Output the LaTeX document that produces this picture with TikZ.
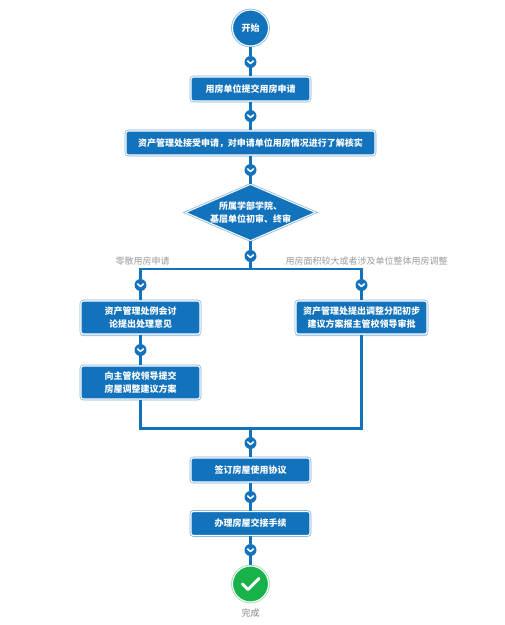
\documentclass[tikz,border=0pt]{standalone}
\usepackage{fontspec}
\setmainfont{Noto Sans CJK SC}
\usetikzlibrary{shapes.geometric}
\definecolor{flowblue}{HTML}{1272BC}
\definecolor{rimblue}{HTML}{7FB2DC}
\definecolor{flowgreen}{HTML}{17B24A}
\definecolor{rimgreen}{HTML}{8FDCA8}
\definecolor{notegray}{HTML}{9A9A9A}

\begin{document}
\begin{tikzpicture}[
        x=1pt, y=1pt,
        task/.style={rectangle, rounded corners=2.5pt, preaction={draw=rimblue, line width=2.6pt}, draw=white, line width=1.1pt, fill=flowblue, minimum height=24pt, align=center, text=white, font=\fontsize{9}{12.5}\selectfont\bfseries},
        taskshadow/.style={task, preaction={draw=rimblue!70, line width=2pt, transform canvas={yshift=-1.2pt}}},
        decision/.style={diamond, aspect=2.3, inner sep=0pt, preaction={draw=rimblue, line width=2.4pt}, draw=white, line width=1pt, fill=flowblue, minimum width=130pt, minimum height=56pt, align=center, text=white, font=\fontsize{9}{12.5}\selectfont\bfseries},
        terminal/.style={circle, inner sep=0pt, preaction={draw=rimblue, line width=2.6pt}, draw=white, line width=1.1pt, fill=flowblue, minimum size=36pt, text=white, font=\fontsize{9}{11}\selectfont\bfseries},
        finish/.style={circle, inner sep=0pt, preaction={draw=rimgreen, line width=2.6pt}, draw=white, line width=1.1pt, fill=flowgreen, minimum size=36pt,
            path picture={\draw[white, line width=3pt, line cap=round, line join=round] ([shift={(-8,0)}]path picture bounding box.center) -- ([shift={(-2.5,-5.5)}]path picture bounding box.center) -- ([shift={(8.5,5.5)}]path picture bounding box.center);}},
        chevron/.style={circle, inner sep=0pt, fill=flowblue, minimum size=12pt,
            path picture={\draw[white, line width=1.5pt, line cap=round, line join=round] ([shift={(-3,1.2)}]path picture bounding box.center) -- ([shift={(0,-1.6)}]path picture bounding box.center) -- ([shift={(3,1.2)}]path picture bounding box.center);}},
        note/.style={text=notegray, inner sep=0pt, font=\fontsize{9}{11}\selectfont},
        link/.style={draw=flowblue, line width=2.2pt}
    ]
    \useasboundingbox (0,0) rectangle (505,-625);

    % --- 1. main column ---
    \node[terminal] (start) at (250.5,-28) {开始};
    \node[task, minimum width=119pt] (apply) at (250.5,-89) {用房单位提交用房申请};
    \node[task, minimum width=249pt] (verify) at (250.5,-143) {资产管理处接受申请，对申请单位用房情况进行了解核实};
    \node[decision] (review) at (250.5,-212.5) {所属学部学院、\\基层单位初审、终审};

    % --- 2. branches ---
    \node[note] (smallnote) at (142.5,-261) {零散用房申请};
    \node[note] (largenote) at (366.5,-261) {用房面积较大或者涉及单位整体用房调整};
    \node[taskshadow, minimum width=119pt, minimum height=33pt] (meeting) at (140.5,-317.5) {资产管理处例会讨\\论提出处理意见};
    \node[task, minimum width=119pt, minimum height=33pt] (propose) at (140.5,-382.5) {向主管校领导提交\\房屋调整建议方案};
    \node[taskshadow, minimum width=131pt, minimum height=33pt] (adjust) at (361.5,-317.5) {资产管理处提出调整分配初步\\建议方案报主管校领导审批};

    % --- 3. after the merge ---
    \node[task, minimum width=119pt] (sign) at (250.5,-470) {签订房屋使用协议};
    \node[task, minimum width=119pt] (handover) at (250.5,-523.5) {办理房屋交接手续};
    \node[finish] (done) at (250.5,-584) {};
    \node[note, text=gray] (donelabel) at (250.5,-613) {完成};

    % --- 4. chevrons and junctions ---
    \node[chevron] (c1) at (250.5,-62) {};
    \node[chevron] (c2) at (250.5,-116) {};
    \node[chevron] (c3) at (250.5,-170) {};
    \node[chevron] (c4) at (250.5,-256) {};
    \node[chevron] (c5) at (140.5,-285) {};
    \node[chevron] (c6) at (361.5,-285) {};
    \node[chevron] (c7) at (140.5,-350) {};
    \node[chevron] (c8) at (250.5,-443) {};
    \node[chevron] (c9) at (250.5,-497) {};
    \node[chevron] (c10) at (250.5,-550) {};
    \coordinate (split) at (250.5,-269);
    \coordinate (splitleft) at (140.5,-269);
    \coordinate (splitright) at (361.5,-269);
    \coordinate (merge) at (250.5,-428.5);
    \coordinate (mergeleft) at (140.5,-428.5);
    \coordinate (mergeright) at (361.5,-428.5);

    % --- 5. connectors ---
    \draw[link] (start) -- (c1); \draw[link] (c1) -- (apply);
    \draw[link] (apply) -- (c2); \draw[link] (c2) -- (verify);
    \draw[link] (verify) -- (c3); \draw[link] (c3) -- (review);
    \draw[link] (review) -- (c4); \draw[link] (c4) -- (split);
    \draw[link] (c5) -- (splitleft) -- (splitright) -- (c6);
    \draw[link] (c5) -- (meeting); \draw[link] (meeting) -- (c7); \draw[link] (c7) -- (propose);
    \draw[link] (c6) -- (adjust);
    \draw[link] (propose) -- (mergeleft) -- (mergeright) -- (adjust);
    \draw[link] (merge) -- (c8); \draw[link] (c8) -- (sign);
    \draw[link] (sign) -- (c9); \draw[link] (c9) -- (handover);
    \draw[link] (handover) -- (c10); \draw[link] (c10) -- (done);

\end{tikzpicture}
\end{document}
